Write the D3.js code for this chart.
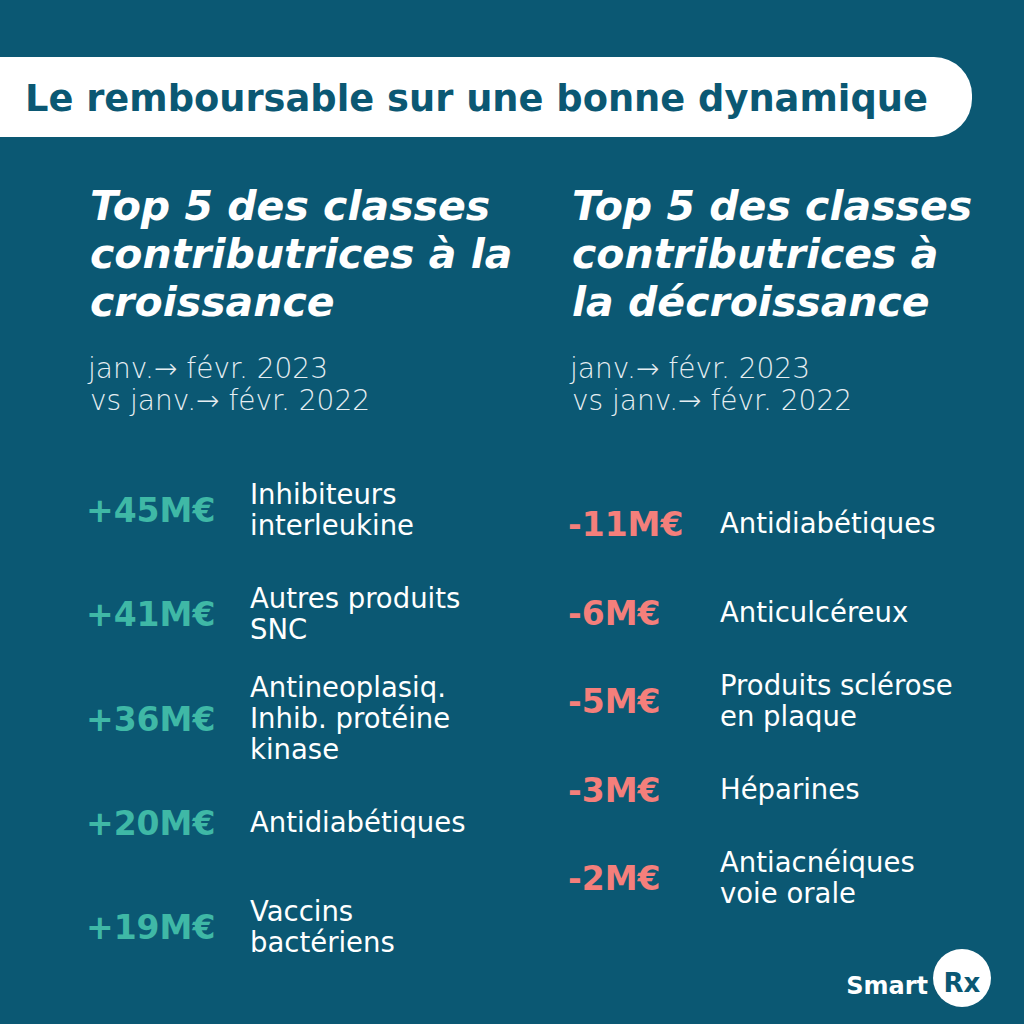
<!DOCTYPE html><html><head><meta charset="utf-8"><script src="https://cdn.jsdelivr.net/npm/d3@7"></script>
<style>body{margin:0;background:#0b5873}</style></head><body><script>
const upCats=["Inhibiteurs\ninterleukine","Autres produits\nSNC","Antineoplasiq.\nInhib. protéine\nkinase","Antidiabétiques","Vaccins\nbactériens"];
const upVals=[45,41,36,20,19];
const downCats=["Antidiabétiques","Anticulcéreux","Produits sclérose\nen plaque","Héparines","Antiacnéiques\nvoie orale"];
const downVals=[-11,-6,-5,-3,-2];
const W=1024,H=1024,bg="#0b5873",F="DejaVu Sans";
const svg=d3.select("body").append("svg").attr("width",W).attr("height",H);
svg.append("rect").attr("width",W).attr("height",H).attr("fill",bg);
svg.append("rect").attr("x",-40).attr("y",57).attr("width",1012).attr("height",80).attr("rx",38).attr("fill","#fff");
svg.append("text").attr("x",25).attr("y",111).attr("fill",bg).attr("font-family",F).attr("font-weight",700).attr("font-size",36.8).text("Le remboursable sur une bonne dynamique");
function col(x,title,cats,vals,range,color,lx){
  const g=svg.append("g");
  title.forEach((t,i)=>g.append("text").attr("x",x).attr("y",220+i*48).attr("fill","#fff").attr("font-family",F).attr("font-weight",700).attr("font-style","italic").attr("font-size",41).text(t));
  ["janv.→ févr. 2023","vs janv.→ févr. 2022"].forEach((t,i)=>g.append("text").attr("x",x-2+(i?2:0)).attr("y",378+i*32).attr("fill","#e6eef2").attr("font-family",F).attr("font-weight",300).attr("font-size",28).text(t));
  const y=d3.scalePoint().domain(cats).range(range);
  cats.forEach((c,i)=>{
    const cy=y(c);
    g.append("text").attr("x",x+2-6).attr("y",cy+12).attr("fill",color).attr("font-family",F).attr("font-weight",700).attr("font-size",33).text((vals[i]>0?"+":"")+vals[i]+"M€");
    const lines=c.split("\n"),lh=31,top=cy-(lines.length-1)*lh/2;
    lines.forEach((l,j)=>g.append("text").attr("x",lx).attr("y",top+j*lh+9).attr("fill","#fff").attr("font-family",F).attr("font-size",27.5).text(l));
  });
}
col(90,["Top 5 des classes","contributrices à la","croissance"],upCats,upVals,[510,927],"#3fb8a6",250);
col(572,["Top 5 des classes","contributrices à","la décroissance"],downCats,downVals,[524,878],"#f47f7b",720);
svg.append("text").attr("x",928).attr("y",994).attr("text-anchor","end").attr("fill","#fff").attr("font-family",F).attr("font-weight",600).attr("font-size",24).text("Smart");
svg.append("circle").attr("cx",962).attr("cy",978).attr("r",29).attr("fill","#fff");
svg.append("text").attr("x",962).attr("y",992).attr("text-anchor","middle").attr("fill",bg).attr("font-family",F).attr("font-weight",700).attr("font-size",26).text("Rx");
</script></body></html>
